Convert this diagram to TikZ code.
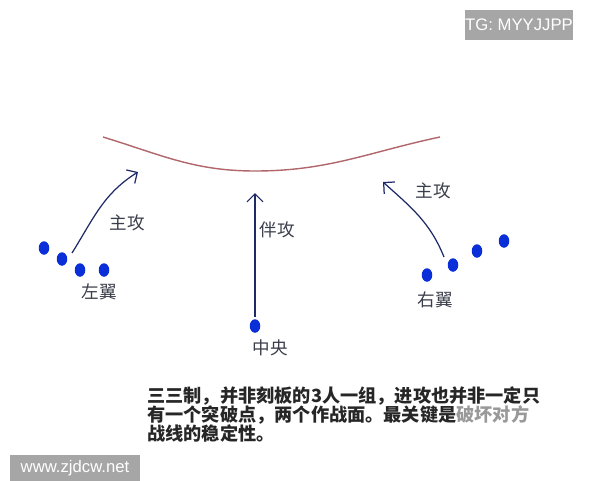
\documentclass[tikz,border=0pt]{standalone}
\usepackage{fontspec}
\setmainfont{Liberation Sans}
\newfontfamily\cjk{Noto Sans CJK SC}
\usetikzlibrary{arrows.meta,shapes.geometric}
\definecolor{linered}{HTML}{B0666A}
\definecolor{arrowblue}{HTML}{1E2A66}
\definecolor{dotblue}{HTML}{0A2ED8}
\definecolor{labelgray}{HTML}{3A3E4A}
\definecolor{stampgray}{HTML}{A6A6A6}
\setlength{\lineskiplimit}{-20pt}
\begin{document}
\begin{tikzpicture}[
		x = 1cm, y = 1cm,
		player/.style = {ellipse, fill=dotblue, inner sep=0, minimum width=0.21cm, minimum height=0.27cm},
		tag/.style = {font=\cjk\fontsize{10}{12}\selectfont, text=labelgray, inner sep=1pt},
		move/.style = {arrowblue, line width=0.7pt, -{Straight Barb[length=1.6mm,width=3.2mm]}},
		stamp/.style = {fill=stampgray, text=white, inner sep=0, font=\fontsize{9.5}{11}\selectfont}
	]
	\useasboundingbox (0,0) rectangle (12,9.6);

	% front line
	\coordinate (fl) at (2.06,6.86);
	\coordinate (fm) at (5.1,6.18);
	\coordinate (fr) at (8.8,6.86);
	\draw[linered, line width=0.8pt] (fl) to[out=-17,in=180] (fm) to[out=0,in=192] (fr);

	% left wing
	\node[player] (l1) at (0.88,4.64) {};
	\node[player] (l2) at (1.24,4.42) {};
	\node[player] (l3) at (1.60,4.20) {};
	\node[player] (l4) at (2.08,4.20) {};
	\node[tag] (lwing) at (1.98,3.76) {左翼};
	\coordinate (ls) at (1.44,4.54);
	\coordinate (le) at (2.76,6.16);
	\draw[move] (ls) to[out=58,in=212] (le);
	\node[tag] (lmain) at (2.54,5.14) {主攻};

	% centre
	\node[player] (c1) at (5.1,3.08) {};
	\node[tag] (cname) at (5.4,2.64) {中央};
	\coordinate (cs) at (5.1,3.26);
	\coordinate (ce) at (5.1,5.74);
	\draw[move] (cs) -- (ce);
	\node[tag] (caux) at (5.54,5.0) {伴攻};

	% right wing
	\node[player] (r1) at (8.54,4.10) {};
	\node[player] (r2) at (9.06,4.30) {};
	\node[player] (r3) at (9.54,4.58) {};
	\node[player] (r4) at (10.08,4.78) {};
	\node[tag] (rwing) at (8.70,3.60) {右翼};
	\coordinate (rs) at (8.88,4.46);
	\coordinate (re) at (7.66,5.96);
	\draw[move] (rs) to[out=112,in=-42] (re);
	\node[tag] (rmain) at (8.66,5.78) {主攻};

	% note
	\node[anchor=north west, align=left, inner sep=0, text=black!85,
		font=\cjk\bfseries\fontsize{10.35}{11}\selectfont] (note) at (2.94,1.88)
		{三三制，并非刻板的3人一组，进攻也并非一定只\\
		 有一个突破点，两个作战面。最关键是{\color{black!40}破坏对方}\\
		 战线的稳定性。};

	% stamps
	\node[stamp, minimum width=2.16cm, minimum height=0.6cm] (tg) at (10.38,9.1) {TG: MYYJJPP};
	\node[stamp, minimum width=2.6cm, minimum height=0.54cm] (site) at (1.5,0.24) {www.zjdcw.net};

\end{tikzpicture}
\end{document}
